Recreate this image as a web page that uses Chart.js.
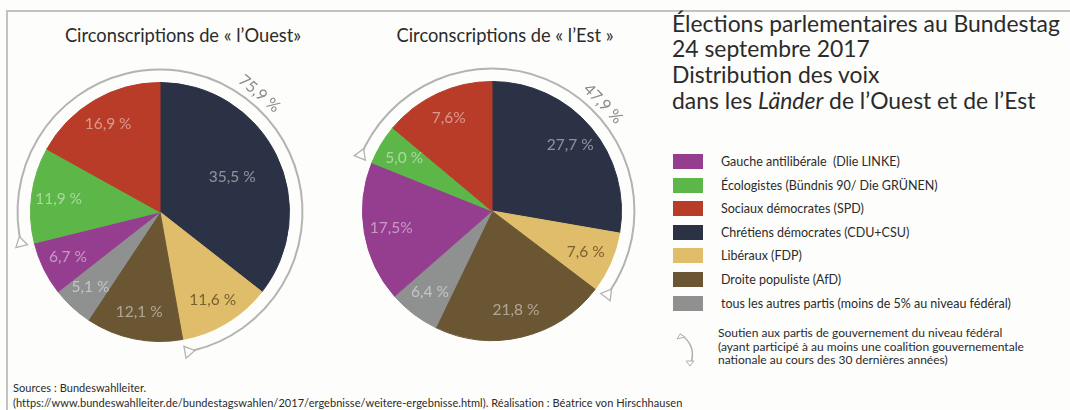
<!DOCTYPE html>
<html lang="fr">
<head>
<meta charset="utf-8">
<title>Élections parlementaires au Bundestag 2017</title>
<script src="https://cdn.jsdelivr.net/npm/chart.js@4.4.1/dist/chart.umd.min.js"></script>
<style>
  html, body { margin: 0; padding: 0; background: #fdfdfb; }
  body { width: 1070px; height: 410px; position: relative; overflow: hidden; font-family: Lato, "Noto Sans", sans-serif; color: #2b2b2b; }
  .cadre { position: absolute; left: 6px; top: 10px; right: -10px; bottom: -10px; border-top: 2px solid #c2c2c2; border-left: 2px solid #c2c2c2; }
  canvas { position: absolute; }
  .titre-pie { position: absolute; font-size: 18.3px; white-space: nowrap; transform: translateX(-50%); line-height: 20px; }
  .titre { position: absolute; left: 672px; font-size: 22.9px; line-height: 22px; white-space: nowrap; }
  .legende { position: absolute; left: 673px; top: 0; }
  .ligne { position: absolute; left: 0; white-space: pre; font-size: 12.5px; line-height: 15px; }
  .case { position: absolute; left: 0; width: 30px; height: 15px; }
  .ligne span { position: absolute; left: 48px; top: 0; }
  .soutien { position: absolute; left: 718px; top: 326px; font-size: 12px; line-height: 13.6px; white-space: nowrap; }
  .sources { position: absolute; left: 13px; top: 381px; font-size: 11px; line-height: 14.5px; white-space: nowrap; letter-spacing: 0.05px; }
</style>
</head>
<body>
<div class="cadre"></div>

<div class="titre-pie" style="left:183px; top:25px;">Circonscriptions de « l’Ouest»</div>
<div class="titre-pie" style="left:505px; top:25px;">Circonscriptions de « l’Est »</div>

<canvas id="pieOuest" width="330" height="330" style="left:0; top:50px;"></canvas>
<canvas id="pieEst" width="330" height="330" style="left:330px; top:50px;"></canvas>

<div class="titre" style="top:12px;">Élections parlementaires au Bundestag</div>
<div class="titre" style="top:37px;">24 septembre 2017</div>
<div class="titre" style="top:63px;">Distribution des voix</div>
<div class="titre" style="top:89px;">dans les <i>Länder</i> de l’Ouest et de l’Est</div>

<div class="legende" id="legende"></div>

<svg style="position:absolute; left:674px; top:330px;" width="28" height="42">
  <path d="M6 4 Q 24 16 16 36" fill="none" stroke="#b0b0b0" stroke-width="1.5"/>
  <path d="M6 4 L 3 9 L 11 7 Z" fill="#fdfdfb" stroke="#b0b0b0" stroke-width="1"/>
  <path d="M16 36 L 12 31 L 20 31 Z" fill="#fdfdfb" stroke="#b0b0b0" stroke-width="1"/>
</svg>
<div class="soutien">Soutien aux partis de gouvernement du niveau fédéral<br>(ayant participé à au moins une coalition gouvernementale<br>nationale au cours des 30 dernières années)</div>

<div class="sources">Sources : Bundeswahlleiter.<br>(https://www.bundeswahlleiter.de/bundestagswahlen/2017/ergebnisse/weitere-ergebnisse.html). Réalisation : Béatrice von Hirschhausen</div>

<script>
// partis dans l'ordre des parts (depuis midi, sens horaire)
const partis = [
  'Chrétiens démocrates (CDU+CSU)',
  'Libéraux (FDP)',
  'Droite populiste (AfD)',
  'tous les autres partis (moins de 5% au niveau fédéral)',
  'Gauche antilibérale  (Dlie LINKE)',
  'Écologistes (Bündnis 90/ Die GRÜNEN)',
  'Sociaux démocrates (SPD)'
];
const couleurs = ['#2c3246', '#dfbd6b', '#6b5634', '#8f9191', '#953e8f', '#5db748', '#b83c27'];

// voix en %
const voixOuest = [35.5, 11.6, 12.1, 5.1, 6.7, 11.9, 16.9];
const voixEst = [27.7, 7.6, 21.8, 6.4, 17.5, 5.0, 13.9]; // la part SPD dessinee fait ~14 % (etiquette d'origine : 7,6%)

// etiquettes telles qu'elles sont ecrites sur le graphique
const etiquettesOuest = ['35,5 %', '11,6 %', '12,1 %', '5,1 %', '6,7 %', '11,9 %', '16,9 %'];
const etiquettesEst = ['27,7 %', '7,6 %', '21,8 %', '6,4 %', '17,5%', '5,0 %', '7,6%'];

// total des partis de gouvernement (CDU, FDP, Verts, SPD)
const soutienOuest = '75,9 %';
const soutienEst = '47,9 %';

const ordreLegende = [4, 5, 6, 0, 1, 2, 3];

// legende HTML
const legende = document.getElementById('legende');
ordreLegende.forEach((idx, i) => {
  const y = 154 + i * 23.6;
  const ligne = document.createElement('div');
  ligne.className = 'ligne';
  ligne.style.top = y + 'px';
  ligne.innerHTML = `<div class="case" style="background:${couleurs[idx]}"></div><span></span>`;
  ligne.querySelector('span').textContent = partis[idx];
  legende.appendChild(ligne);
});

const couleurTexte = (i) => i === 1 ? 'rgba(95,72,25,0.8)' : 'rgba(255,255,255,0.47)';

const extrasCamembert = {
  id: 'extrasCamembert',
  afterDatasetsDraw(chart, args, opts) {
    const ctx = chart.ctx;
    const arcs = chart.getDatasetMeta(0).data;
    const cx = arcs[0].x, cy = arcs[0].y, r = arcs[0].outerRadius;

    // pourcentages dans les parts
    ctx.save();
    ctx.font = '15.5px Lato';
    ctx.textAlign = 'center';
    ctx.textBaseline = 'middle';
    arcs.forEach((a, i) => {
      const mid = (a.startAngle + a.endAngle) / 2;
      const part = (a.endAngle - a.startAngle) / (2 * Math.PI);
      const k = part > 0.3 ? 0.62 : 0.79;
      ctx.fillStyle = couleurTexte(i);
      ctx.fillText(opts.etiquettes[i], cx + Math.cos(mid) * r * k, cy + Math.sin(mid) * r * k);
    });
    ctx.restore();

    // arc des partis de gouvernement : des Verts jusqu'au FDP
    const R = r * 1.1;
    const a0 = arcs[5].startAngle;
    let a1 = arcs[1].endAngle;
    if (a1 < a0) a1 += 2 * Math.PI;
    ctx.save();
    ctx.strokeStyle = '#b3b3b3';
    ctx.lineWidth = 2;
    ctx.beginPath();
    ctx.arc(cx, cy, R, a0, a1);
    ctx.stroke();
    ctx.lineWidth = 1.3;
    triangle(ctx, cx, cy, R, a0, 1);
    triangle(ctx, cx, cy, R, a1, -1);

    // total le long de l'arc
    const ang = opts.angleSoutien * Math.PI / 180;
    const d = R + 12;
    ctx.translate(cx + Math.sin(ang) * d, cy - Math.cos(ang) * d);
    ctx.rotate(ang);
    ctx.font = '16px Lato';
    ctx.fillStyle = '#8a8a8a';
    ctx.textAlign = 'center';
    ctx.textBaseline = 'middle';
    ctx.fillText(opts.soutien, 0, 0);
    ctx.restore();
  }
};

function triangle(ctx, cx, cy, R, a, sens) {
  const px = cx + R * Math.cos(a), py = cy + R * Math.sin(a);
  const tx = -Math.sin(a) * sens, ty = Math.cos(a) * sens;
  const nx = Math.cos(a), ny = Math.sin(a);
  const L = 10, w = 6;
  ctx.beginPath();
  ctx.moveTo(px + nx * w, py + ny * w);
  ctx.lineTo(px - nx * w, py - ny * w);
  ctx.lineTo(px + tx * L, py + ty * L);
  ctx.closePath();
  ctx.fillStyle = '#fdfdfb';
  ctx.fill();
  ctx.stroke();
}

function creerCamembert(id, valeurs, etiquettes, soutien, cx, cy, angleSoutien) {
  const canvas = document.getElementById(id);
  const r = 130;
  new Chart(canvas, {
    type: 'pie',
    data: {
      labels: partis,
      datasets: [{
        data: valeurs,
        backgroundColor: couleurs,
        borderColor: couleurs,
        borderWidth: 1
      }]
    },
    options: {
      responsive: false,
      animation: false,
      layout: {
        padding: { left: cx - r, top: cy - r, right: canvas.width - cx - r, bottom: canvas.height - cy - r }
      },
      plugins: {
        legend: { display: false },
        tooltip: { enabled: false },
        extrasCamembert: { etiquettes, soutien, angleSoutien }
      }
    },
    plugins: [extrasCamembert]
  });
}

creerCamembert('pieOuest', voixOuest, etiquettesOuest, soutienOuest, 160, 162, 40);
creerCamembert('pieEst', voixEst, etiquettesEst, soutienEst, 162, 161, 46);
</script>
</body>
</html>
